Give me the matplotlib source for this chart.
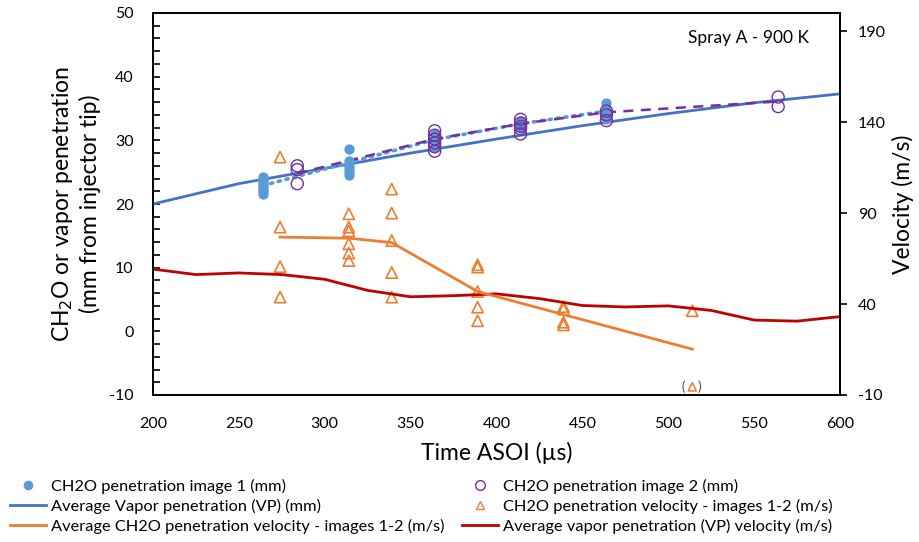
import matplotlib
matplotlib.use("Agg")
import matplotlib.pyplot as plt
from matplotlib.lines import Line2D

plt.rcParams['font.family'] = ['Lato', 'DejaVu Sans']
plt.rcParams['axes.unicode_minus'] = False

# --- Data ---
# CH2O penetration, image 1 (mm)
img1_t = [264] * 8 + [314] * 6 + [364] * 4 + [414] * 3 + [464] * 4
img1_mm = [21.5, 22.0, 22.4, 22.8, 23.2, 23.6, 24.0, 24.3,
           28.6, 26.8, 26.2, 25.6, 25.0, 24.6,
           29.0, 29.8, 30.4, 31.0,
           32.0, 32.5, 33.0,
           35.8, 35.0, 34.3, 33.4]
img1_avg_t = [264, 314, 364, 414, 464]
img1_avg_mm = [22.9, 26.5, 30.1, 32.6, 34.6]

# CH2O penetration, image 2 (mm)
img2_t = [284] * 3 + [364] * 6 + [414] * 5 + [464] * 3 + [564] * 2
img2_mm = [26.0, 25.4, 23.2,
           31.5, 30.8, 30.2, 29.6, 29.0, 28.3,
           33.3, 32.7, 32.2, 31.8, 31.0,
           34.6, 34.0, 33.1,
           36.8, 35.3]
img2_avg_t = [284, 364, 414, 464, 564]
img2_avg_mm = [24.8, 30.2, 32.6, 34.4, 36.1]

# Average vapor penetration (mm) and its velocity (m/s)
vp_t = [200, 250, 300, 350, 400, 450, 500, 550, 600]
vp_mm = [20.0, 23.2, 25.6, 28.0, 30.2, 32.3, 34.2, 35.9, 37.3]
vpv_t = [200, 225, 250, 275, 300, 325, 350, 375, 400, 425, 450, 475, 500,
         525, 550, 575, 600]
vpv_ms = [59.2, 56.2, 57.1, 56.2, 53.6, 47.5, 44.0, 44.6, 45.6, 43.0, 39.2,
          38.4, 39.0, 36.5, 31.2, 30.6, 33.1]

# CH2O penetration velocity, images 1-2 (m/s)
vel_t = [274] * 4 + [314] * 6 + [339] * 5 + [389] * 5 + [439] * 4 + [514]
vel_ms = [120.8, 82.3, 60.6, 43.8,
          89.6, 82.3, 80.2, 73.1, 68.0, 63.9,
          103.2, 90.0, 74.9, 57.3, 43.8,
          61.6, 60.3, 46.9, 38.3, 30.8,
          38.6, 37.2, 30.0, 28.5,
          36.3]
vel_out_t = 514      # point shown in brackets near the bottom
vel_out_ms = -5.5
vel_avg_t = [274, 314, 339, 389, 514]
vel_avg_ms = [76.8, 76.2, 73.8, 46.9, 15.2]

c_dot = "#5B9BD5"
c_vp = "#4472C4"
c_purple = "#7030A0"
c_orange = "#ED7D31"
c_red = "#C00000"

fig = plt.figure(figsize=(9.19, 5.42), dpi=100)
ax = fig.add_axes([153 / 919, 1 - 395 / 542, 687 / 919, 382 / 542])
ax2 = ax.twinx()

# left axis: penetration
ax.plot(vp_t, vp_mm, color=c_vp, lw=2, zorder=3)
ax.plot(img1_avg_t, img1_avg_mm, color=c_dot, lw=2.6, ls=(0, (0.6, 1.6)),
        dash_capstyle='round', zorder=3)
ax.plot(img2_avg_t, img2_avg_mm, color=c_purple, lw=1.8, ls=(0, (4, 3)), zorder=3)
ax.scatter(img1_t, img1_mm, s=55, color=c_dot, zorder=4, linewidths=0)
ax.scatter(img2_t, img2_mm, s=75, facecolors='none', edgecolors=c_purple,
           linewidths=1.0, zorder=4)

# right axis: velocity
ax2.plot(vpv_t, vpv_ms, color=c_red, lw=2)
ax2.plot(vel_avg_t, vel_avg_ms, color=c_orange, lw=2)
ax2.scatter(vel_t, vel_ms, s=65, marker='^', facecolors='none',
            edgecolors=c_orange, linewidths=1.2)
ax2.scatter([vel_out_t], [vel_out_ms], s=35, marker='^', facecolors='none',
            edgecolors=c_orange, linewidths=1.1)
ax2.text(vel_out_t, vel_out_ms, "(    )", ha='center', va='center',
         fontsize=9, color='#404040')

ax.set_xlim(200, 600)
ax.set_ylim(-10, 50)
ax2.set_ylim(-10, 200)
ax.set_xticks(range(200, 601, 50))
ax.set_yticks(range(-10, 51, 10))
ax.set_yticks(range(-10, 51, 2), minor=True)
ax2.set_yticks(range(-10, 191, 50))

ax.tick_params(axis='x', length=0, labelsize=11.5, pad=16)
ax.tick_params(axis='y', which='both', direction='in', length=5, width=1.2,
               labelsize=11.5, pad=14)
ax2.tick_params(axis='y', direction='out', length=5, width=1.2,
                labelsize=11.5, pad=8)
for a in (ax, ax2):
    for s in a.spines.values():
        s.set_linewidth(1.3)

ax.set_xlabel("Time ASOI (µs)", fontsize=16.5, labelpad=8)
ax.set_ylabel("CH$_2$O or vapor penetration\n(mm from injector tip)",
              fontsize=16.5, labelpad=6)
ax2.set_ylabel("Velocity (m/s)", fontsize=16.5, labelpad=4)

ax.text(0.955, 0.935, "Spray A - 900 K", transform=ax.transAxes,
        ha='right', va='center', fontsize=12.5)

handles = [
    Line2D([], [], ls='none', marker='o', color=c_dot, markersize=6),
    Line2D([], [], color=c_vp, lw=2),
    Line2D([], [], color=c_orange, lw=2),
    Line2D([], [], ls='none', marker='o', markerfacecolor='none',
           markeredgecolor=c_purple, markersize=7),
    Line2D([], [], ls='none', marker='^', markerfacecolor='none',
           markeredgecolor=c_orange, markersize=6),
    Line2D([], [], color=c_red, lw=2),
]
labels = [
    "CH2O penetration image 1 (mm)",
    "Average Vapor penetration (VP) (mm)",
    "Average CH2O penetration velocity - images 1-2 (m/s)",
    "CH2O penetration image 2 (mm)",
    "CH2O penetration velocity - images 1-2 (m/s)",
    "Average vapor penetration (VP) velocity (m/s)",
]
fig.legend(handles, labels, ncol=2, loc='upper left',
           bbox_to_anchor=(0.0, 0.135), frameon=False, fontsize=11.8,
           handlelength=2.2, handletextpad=0.3, columnspacing=1.1,
           labelspacing=0.3, borderaxespad=0.2)

fig.savefig("out.png", dpi=100)
